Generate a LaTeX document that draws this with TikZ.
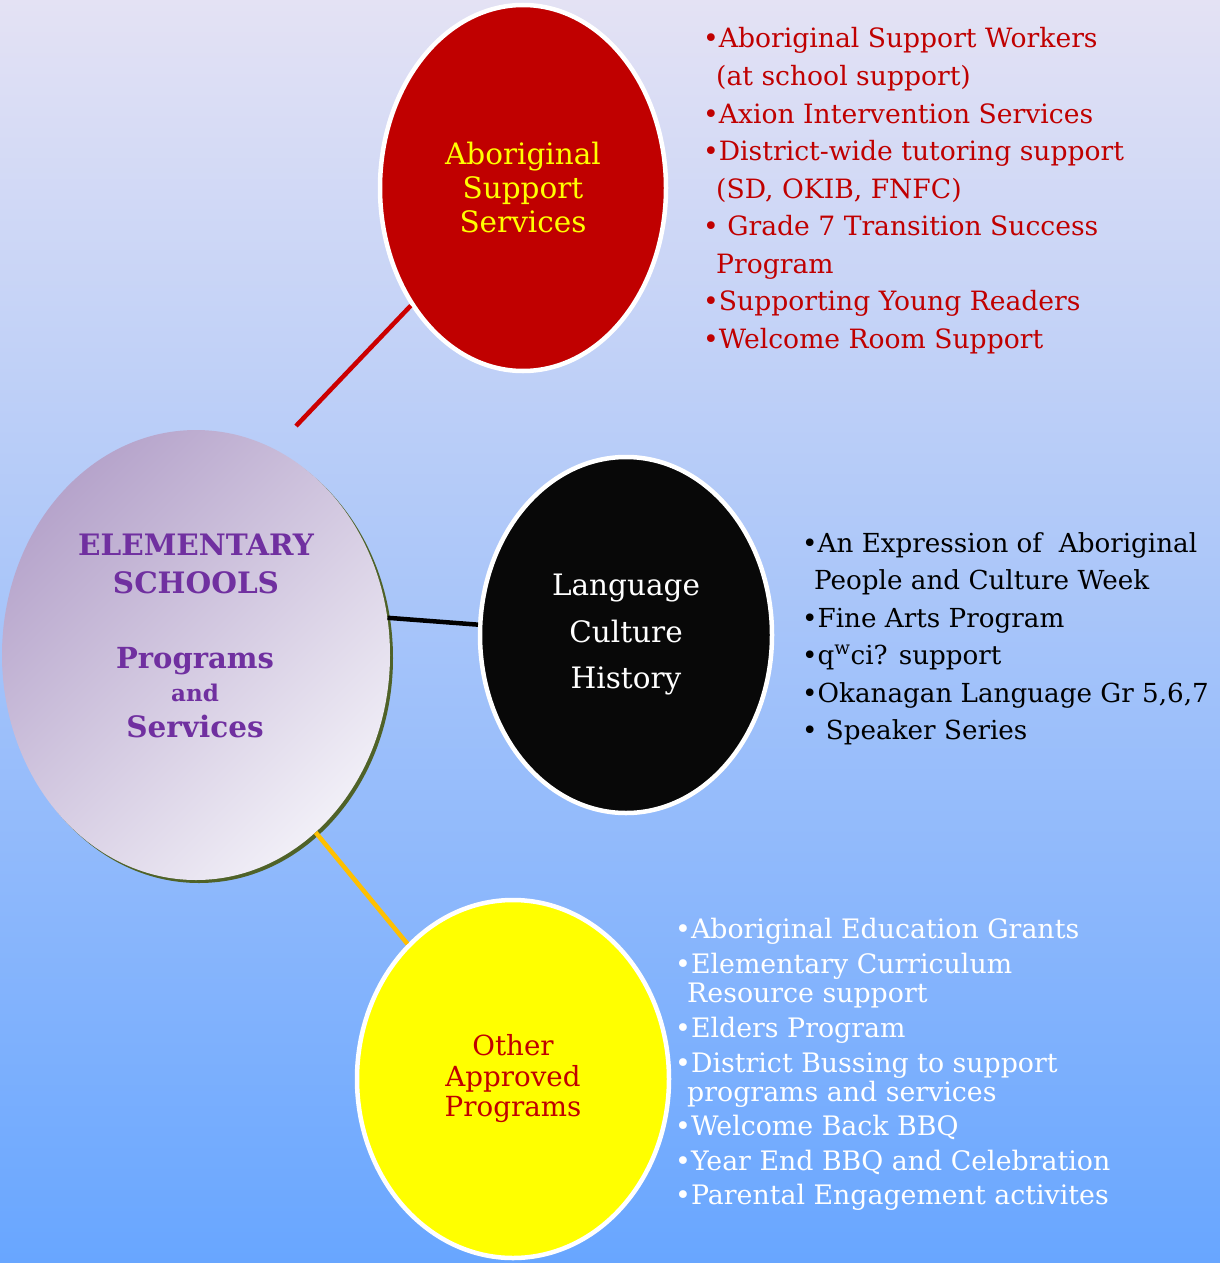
\documentclass[tikz,border=0pt]{standalone}
\usepackage{fontspec}
\setmainfont{DejaVu Serif}
\usetikzlibrary{shapes.geometric}
\definecolor{bgtop}{RGB}{228,226,244}
\definecolor{bgmid}{RGB}{150,199,246}
\definecolor{bgbot}{RGB}{104,166,255}
\definecolor{ctl}{RGB}{182,164,203}
\definecolor{cbr}{RGB}{241,239,247}
\definecolor{shadowgreen}{RGB}{79,98,40}
\definecolor{redfill}{RGB}{192,0,0}
\definecolor{redtext}{RGB}{192,0,0}
\definecolor{redline}{RGB}{204,0,0}
\definecolor{yellowline}{RGB}{255,192,0}
\definecolor{yellowfill}{RGB}{255,255,0}
\definecolor{purp}{RGB}{112,48,160}
\definecolor{darkfill}{RGB}{8,8,8}
\begin{document}
\begin{tikzpicture}[x=1pt,y=-1pt,
  bubble/.style={ellipse, draw=white, line width=4.5pt, inner sep=0pt, align=center},
  redlist/.style={text=redtext, inner sep=0pt, anchor=base west, font=\fontsize{26.6}{30}\selectfont},
  blacklist/.style={text=black, inner sep=0pt, anchor=base west, font=\fontsize{26.2}{30}\selectfont},
  whitelist/.style={text=white, inner sep=0pt, anchor=base west, font=\fontsize{26.8}{30}\selectfont},
  ctextstyle/.style={text=purp, inner sep=0pt, anchor=base, font=\bfseries\fontsize{#1}{#1}\selectfont},
  connector/.style={line width=4.5pt}
]
\useasboundingbox (0,0) rectangle (1220,1263);
\shade[top color=bgtop, middle color=bgmid, bottom color=bgbot] (0,0) rectangle (1220,1263);

% central ellipse with shadow
\node[ellipse, fill=shadowgreen, minimum width=388pt, minimum height=450pt, inner sep=0pt] (cshadow) at (199,658) {};
\node[ellipse, left color=ctl, right color=cbr, shading angle=45, minimum width=388pt, minimum height=450pt, inner sep=0pt] (center) at (196,655) {};

% satellites
\node[bubble, fill=redfill, text=yellowfill, minimum width=286pt, minimum height=366pt,
      font=\fontsize{29.5}{34}\selectfont] (ass) at (523,188) {Aboriginal\\Support\\Services};
\node[bubble, fill=darkfill, text=white, minimum width=292pt, minimum height=356pt,
      font=\fontsize{29.5}{46.5}\selectfont] (lch) at (626,635) {Language\\Culture\\History};
\node[bubble, fill=yellowfill, text=redtext, minimum width=312pt, minimum height=358pt,
      font=\fontsize{27.7}{30.5}\selectfont] (oap) at (513,1079) {Other\\Approved\\Programs};

% connectors
\coordinate (rfree) at (296,426);
\draw[connector, redline] (rfree) -- (ass);
\draw[connector, black] (center.11) -- (lch.176);
\draw[connector, yellowline] (center.-56) -- (oap.128);

% central text
\node[ctextstyle=29.5] (c1) at (196,555) {ELEMENTARY};
\node[ctextstyle=29.5] (c2) at (196,593) {SCHOOLS};
\node[ctextstyle=29] (c3) at (195,668) {Programs};
\node[ctextstyle=23] (c4) at (195,701) {and};
\node[ctextstyle=29.5] (c5) at (195,737) {Services};

% red list
\foreach \n/\xx/\yy/\t in {
  r1/703/48/{•Aboriginal Support Workers},
  r2/716/85/{(at school support)},
  r3/703/123/{•Axion Intervention Services},
  r4/703/160/{•District-wide tutoring support},
  r5/716/198/{(SD, OKIB, FNFC)},
  r6/703/235/{• Grade 7 Transition Success},
  r7/716/273/{Program},
  r8/703/310/{•Supporting Young Readers},
  r9/703/348/{•Welcome Room Support}}
  \node[redlist] (\n) at (\xx,\yy) {\t};

% black list
\foreach \n/\xx/\yy/\t in {
  b1/802/552/{•An Expression of~ Aboriginal},
  b2/814/589/{People and Culture Week},
  b3/802/627/{•Fine Arts Program},
  b4/802/664/{•q\textsuperscript{w}ci? support},
  b5/802/702/{•Okanagan Language Gr 5,6,7},
  b6/802/739/{• Speaker Series}}
  \node[blacklist] (\n) at (\xx,\yy) {\t};

% white list
\foreach \n/\xx/\yy/\t in {
  w1/675/938/{•Aboriginal Education Grants},
  w2/675/973/{•Elementary Curriculum},
  w3/687/1002/{Resource support},
  w4/675/1037/{•Elders Program},
  w5/675/1072/{•District Bussing to support},
  w6/687/1101/{programs and services},
  w7/675/1135/{•Welcome Back BBQ},
  w8/675/1170/{•Year End BBQ and Celebration},
  w9/675/1204/{•Parental Engagement activites}}
  \node[whitelist] (\n) at (\xx,\yy) {\t};
\end{tikzpicture}
\end{document}
